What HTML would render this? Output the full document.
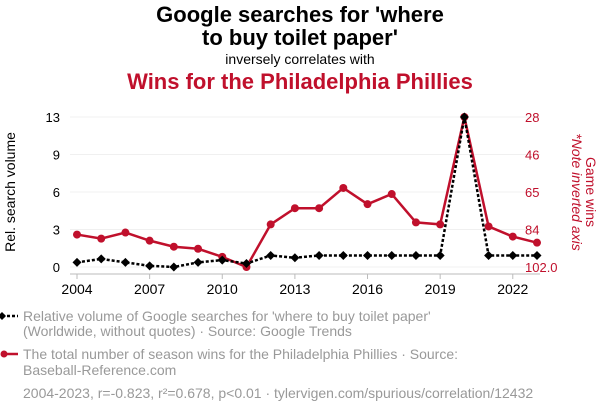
<!DOCTYPE html>
<html><head><meta charset="utf-8"><style>
body{margin:0;background:#fff;font-family:"Liberation Sans",sans-serif;}
svg{display:block}
</style></head><body>
<svg id="c" width="600" height="414">
<text x="300" y="22" text-anchor="middle" font-size="22" font-weight="bold" fill="#000">Google searches for 'where</text>
<text x="300" y="45" text-anchor="middle" font-size="22" font-weight="bold" fill="#000">to buy toilet paper'</text>
<text x="300" y="64" text-anchor="middle" font-size="14" fill="#000">inversely correlates with</text>
<text x="300" y="89" text-anchor="middle" font-size="22" font-weight="bold" fill="#c0102c">Wins for the Philadelphia Phillies</text>
<g id="grid"></g><g id="axes"></g><g id="marks"></g>
<text transform="translate(15,192) rotate(-90)" text-anchor="middle" font-size="14" fill="#000">Rel. search volume</text>
<text transform="translate(586,192) rotate(90)" text-anchor="middle" font-size="14" fill="#c0102c">Game wins</text>
<text transform="translate(572,192) rotate(90)" text-anchor="middle" font-size="14" font-style="italic" fill="#c0102c">*Note inverted axis</text>
<g>
<line x1="2" y1="316" x2="18" y2="316" stroke="#000" stroke-width="2.5" stroke-dasharray="3,2"/>
<path d="M2 312 L6 316 L2 320 L-2 316Z" fill="#000"/>
<text x="23" y="321" font-size="14" fill="#999">Relative volume of Google searches for 'where to buy toilet paper'</text>
<text x="23" y="336" font-size="14" fill="#999">(Worldwide, without quotes) · Source: Google Trends</text>
</g>
<g>
<line x1="2" y1="354" x2="18" y2="354" stroke="#c0102c" stroke-width="2.5"/>
<circle cx="4" cy="354" r="3.5" fill="#c0102c"/>
<text x="23" y="359" font-size="14" fill="#999">The total number of season wins for the Philadelphia Phillies · Source:</text>
<text x="23" y="375" font-size="14" fill="#999">Baseball-Reference.com</text>
</g>
<text x="23" y="398" font-size="14" fill="#999">2004-2023, r=-0.823, r²=0.678, p&lt;0.01 · tylervigen.com/spurious/correlation/12432</text>
</svg>
<script>
const years=[2004,2005,2006,2007,2008,2009,2010,2011,2012,2013,2014,2015,2016,2017,2018,2019,2020,2021,2022,2023];
const searches=[0.4,0.7,0.4,0.1,0,0.4,0.6,0.3,1,0.8,1,1,1,1,1,1,13,1,1,1];
const wins=[86,88,85,89,92,93,97,102,81,73,73,63,71,66,80,81,28,82,87,90];
const leftTickValues=[0,3.25,6.5,9.75,13];
const leftTickLabels=['0','3','6','9','13'];
const rightTickValues=[28,46.5,65,83.5,102];
const rightTickLabels=['28','46','65','84','102.0'];
const xTicks=[2004,2007,2010,2013,2016,2019,2022];
const NS="http://www.w3.org/2000/svg";
const x=y=>77+(y-2004)*(460/19);
const yL=v=>267-v/13*150;
const yR=v=>117+(v-28)/74*150;
function mk(t,a,p){const e=document.createElementNS(NS,t);for(const k in a)e.setAttribute(k,a[k]);p.appendChild(e);return e;}
const grid=document.getElementById('grid'),axes=document.getElementById('axes'),marks=document.getElementById('marks');
leftTickValues.forEach((v,i)=>{
 const g=mk('line',{x1:70,x2:540,y1:yL(v),y2:yL(v),stroke:'#f0f0f0','stroke-width':1},grid);
 
 
 const t=mk('text',{x:60,y:yL(v)+5,'text-anchor':'end','font-size':13,fill:'#000'},axes);t.textContent=leftTickLabels[i];
 
 
});
rightTickValues.forEach((v,i)=>{
 const t=mk('text',{x:525,y:yR(v)+5,'font-size':13,fill:'#c0102c'},axes);t.textContent=rightTickLabels[i];
 
 
});
const ax=mk('line',{x1:70,x2:540,y1:274,y2:274,stroke:'#bbb'},axes);


xTicks.forEach(v=>{
 mk('line',{x1:x(v),x2:x(v),y1:274,y2:279,stroke:'#bbb'},axes);
 const t=mk('text',{x:x(v),y:294,'text-anchor':'middle','font-size':14,fill:'#000'},axes);t.textContent=v;
 
 
});
const rl=mk('polyline',{points:years.map((y,i)=>x(y)+','+yR(wins[i])).join(' '),fill:'none',stroke:'#c0102c','stroke-width':2.5},marks);


years.forEach((y,i)=>{const c=mk('circle',{cx:x(y),cy:yR(wins[i]),r:4,fill:'#c0102c'},marks);
 
 });
const bl=mk('polyline',{points:years.map((y,i)=>x(y)+','+yL(searches[i])).join(' '),fill:'none',stroke:'#000','stroke-width':2.5,'stroke-dasharray':'3,2'},marks);


years.forEach((y,i)=>{const cx=x(y),cy=yL(searches[i]);
 const p=mk('path',{d:`M${cx} ${cy-4.5}L${cx+4.5} ${cy}L${cx} ${cy+4.5}L${cx-4.5} ${cy}Z`,fill:'#000'},marks);
 
 });
</script>
</body></html>
